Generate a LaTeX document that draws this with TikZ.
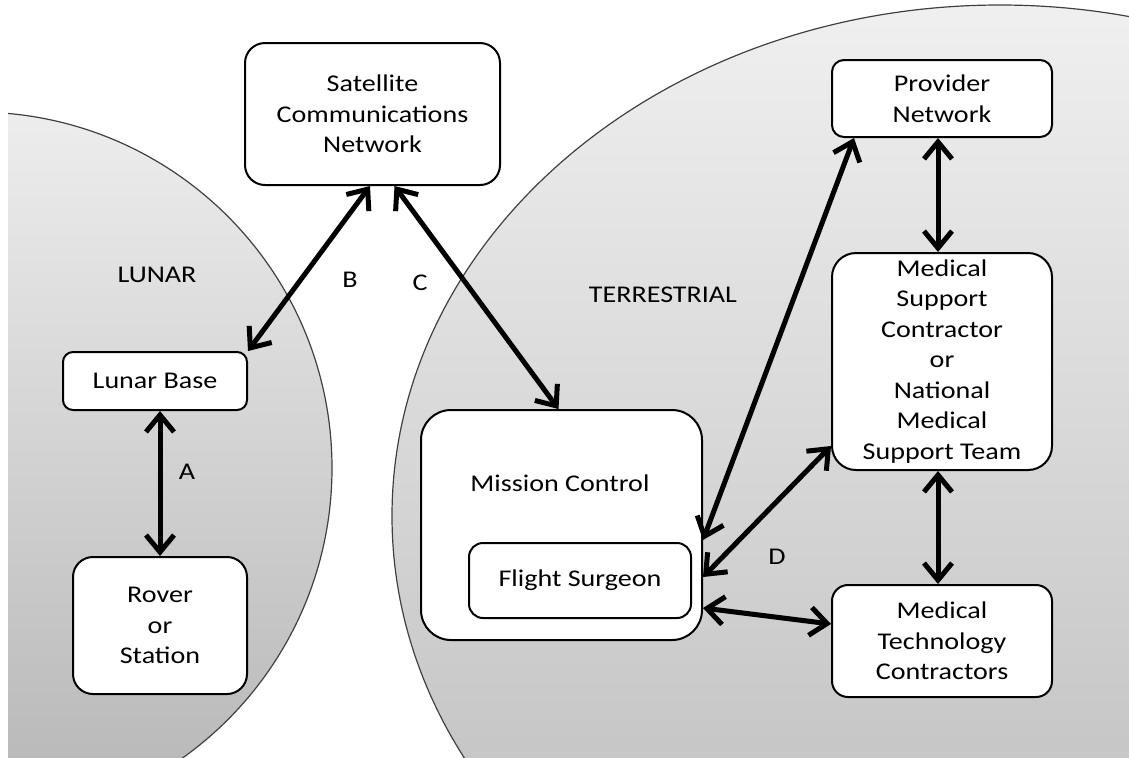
\documentclass[tikz,border=0pt]{standalone}
\usepackage{fontspec}
\setmainfont[FakeStretch=1.17]{Carlito}
\usepackage{tikz}
\usetikzlibrary{positioning}
\usetikzlibrary{arrows.meta}

\begin{document}
\begin{tikzpicture}
    [x=0.5pt,y=-0.5pt,
     every node/.style={font=\fontsize{12}{15.25}\selectfont,text=black},
     >={Straight Barb[length=8.5pt,width=14pt]}]

    \tikzstyle{box}  = [draw,line width=1pt,fill=white,rounded corners=10pt,align=center,inner sep=0pt]
    \tikzstyle{tag}  = [inner sep=0pt]
    \tikzstyle{link} = [<->,line width=2.5pt]

    \useasboundingbox (0,0) rectangle (1129,757);

    % the two regions
    \begin{scope}
      \clip (8,0) rectangle (1129,757);
      \shadedraw [top color=black!7,bottom color=black!29,draw=black!75,line width=0.6pt]
            (-24,468) circle [radius=178pt];
      \shadedraw [top color=black!6,bottom color=black!28,draw=black!75,line width=0.6pt]
            (1000,516) ellipse [x radius=304pt,y radius=255.5pt];
    \end{scope}

    \node [box,minimum width=127.5pt,minimum height=71pt] (sat) at (372.5,114) {Satellite\\Communications\\Network};

    \node [box,rounded corners=5pt,minimum width=92pt,minimum height=29pt] (lb) at (155,381) {Lunar Base};
    \node [box,minimum width=87pt,minimum height=68.5pt,below=72.5pt of lb,xshift=2.5pt] (rov) {Rover\\or\\Station};

    \node [box,rounded corners=15pt,minimum width=140.5pt,minimum height=115pt] (mc) at (561.5,525) {};
    \node [tag] (mctext) at (560,483) {Mission Control};
    \node [box,rounded corners=7pt,minimum width=111pt,minimum height=37.5pt] (fs) at (580,580.5) {Flight Surgeon};

    \node [box,rounded corners=6pt,minimum width=110pt,minimum height=38.5pt] (pn) at (942,98.5) {Provider\\Network};
    \node [box,rounded corners=12pt,minimum width=110pt,minimum height=108.5pt,below=57pt of pn] (ms)
          {Medical\\Support\\Contractor\\or\\National\\Medical\\Support Team};
    \node [box,rounded corners=8pt,minimum width=110pt,minimum height=56pt,below=56.5pt of ms] (mt)
          {Medical\\Technology\\Contractors};

    \node [tag] (lunar) at (157,275) {LUNAR};
    \node [tag] (terr) at (663,295) {TERRESTRIAL};
    \node [tag] (ta) at (187,472) {A};
    \node [tag] (tb) at (350,280) {B};
    \node [tag] (tc) at (420,283) {C};
    \node [tag] (td) at (777,557) {D};

    \draw [link] (lb.south -| rov.north) -- (rov.north);
    \draw [link] ([xshift=-1.25pt]sat.south) -- (lb.north east);
    \draw [link] ([xshift=11pt]sat.south) -- ([xshift=-1.5pt]mc.north);
    \draw [link] ([xshift=11.5pt]pn.south west) -- ([yshift=-7.5pt]mc.east);
    \draw [link] ([yshift=12.5pt]ms.south west) -- ([xshift=5.5pt,yshift=1.75pt]fs.east);
    \draw [link] ([xshift=5.5pt,yshift=5.5pt]fs.south east) -- ([yshift=8.5pt]mt.west);
    \draw [link] ([xshift=-2pt]pn.south) -- ([xshift=-2pt]ms.north);
    \draw [link] ([xshift=-2pt]ms.south) -- ([xshift=-2pt]mt.north);
\end{tikzpicture}
\end{document}
